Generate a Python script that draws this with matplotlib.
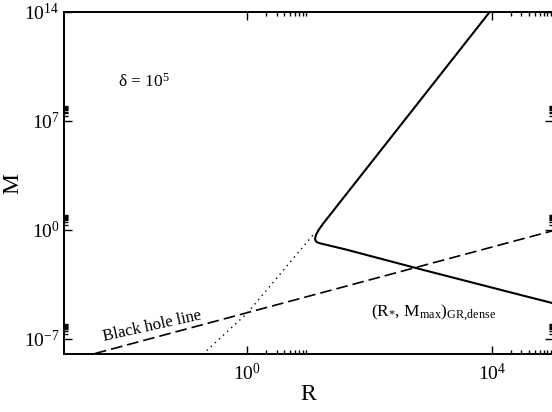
import numpy as np
import matplotlib

matplotlib.use("Agg")
import matplotlib.pyplot as plt
from matplotlib.ticker import FixedLocator, FixedFormatter, NullFormatter

# values, as log10 exponents
solid_logR = [3.98, 2.60, 1.243, 1.17, 1.125, 1.107, 1.115, 1.14, 1.19, 1.597, 2.877, 4.46, 5.0]
solid_logM = [14.1, 7.2, 0.42, 0.02, -0.30, -0.55, -0.70, -0.80, -0.87, -1.25, -2.58, -4.18, -4.72]

dotted_logR = [-0.73, 0.0, 1.08]
dotted_logM = [-8.0, -5.35, -0.30]

bh_logR = [-2.49, 5.0]
bh_logM = [-7.95, -0.05]

x_major = [1e0, 1e4]
x_labels = [r"$10^{0}$", r"$10^{4}$"]
y_major = [1e-7, 1e0, 1e7, 1e14]
y_labels = [r"$10^{-7}$", r"$10^{0}$", r"$10^{7}$", r"$10^{14}$"]

plt.rcParams["font.family"] = ["Liberation Serif", "DejaVu Serif"]
plt.rcParams["mathtext.fontset"] = "custom"
plt.rcParams["mathtext.rm"] = "Liberation Serif"
plt.rcParams["mathtext.it"] = "Liberation Serif:italic"

fig = plt.figure(figsize=(5.52, 4.12), dpi=100)
ax = fig.add_axes([0.1154, 0.140, 0.8870, 0.8309])

p10 = lambda v: np.power(10.0, v)
ax.plot(p10(solid_logR), p10(solid_logM), color="black", lw=1.5, solid_capstyle="round")
ax.plot(p10(dotted_logR), p10(dotted_logM), color="black", lw=1.0, linestyle=(0, (1, 3)))
ax.plot(p10(bh_logR), p10(bh_logM), color="black", lw=1.2, dashes=(7, 3))

ax.set_xscale("log")
ax.set_yscale("log")
ax.set_xlim(1e-3, 1e5)
ax.set_ylim(1e-8, 1e14)

minor = [m * 10.0 ** k for k in (0, 4) for m in range(2, 10)]
ax.xaxis.set_major_locator(FixedLocator(x_major))
ax.xaxis.set_major_formatter(FixedFormatter(x_labels))
ax.xaxis.set_minor_locator(FixedLocator(minor))
ax.xaxis.set_minor_formatter(NullFormatter())
yminor = [m * 10.0 ** k for k in (-7, 0, 7) for m in range(2, 10)]
ax.yaxis.set_major_locator(FixedLocator(y_major))
ax.yaxis.set_major_formatter(FixedFormatter(y_labels))
ax.yaxis.set_minor_locator(FixedLocator(yminor))
ax.yaxis.set_minor_formatter(NullFormatter())

ax.tick_params(which="both", direction="in", top=True, right=True, width=1.0)
ax.tick_params(which="major", length=6, labelsize=14)
ax.tick_params(which="minor", length=3)
ax.tick_params(axis="x", pad=6)
ax.tick_params(axis="y", pad=3)
for s in ax.spines.values():
    s.set_linewidth(1.4)

ax.set_xlabel("R", fontsize=17, labelpad=0)
ax.set_ylabel("M", fontsize=17)
ax.yaxis.set_label_coords(-0.082, 0.5)

ax.text(0.163, 0.796, r"δ = 10$^{5}$", transform=ax.transAxes,
        ha="center", va="center", fontsize=12.5)
ax.text(0.181, 0.081, "Black hole line", transform=ax.transAxes,
        ha="center", va="center", fontsize=12, rotation=12.5)
ax.text(0.755, 0.121, r"$(\mathrm{R}_{*},\,\mathrm{M}_{\mathrm{max}})_{\mathrm{GR{,}dense}}$",
        transform=ax.transAxes, ha="center", va="center", fontsize=12.5)

fig.savefig("out.png", dpi=100)
plt.close(fig)
